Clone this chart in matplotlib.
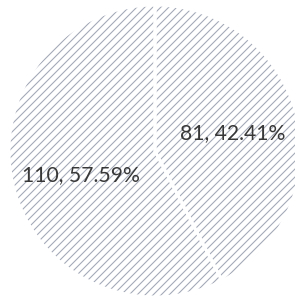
import matplotlib
matplotlib.use("Agg")
import matplotlib.pyplot as plt

values = [81, 110]
labels = ["81, 42.41%", "110, 57.59%"]

DPI = 120
plt.rcParams['hatch.color'] = '#a3a9b8'
plt.rcParams['hatch.linewidth'] = 0.65

fig = plt.figure(figsize=(295 / DPI, 297 / DPI), dpi=DPI)
ax = fig.add_axes([9 / 295, 0.0, 292 / 295, 292 / 297])
wedges, _ = ax.pie(values, startangle=90, counterclock=False,
                   colors=['white', 'white'],
                   wedgeprops=dict(edgecolor='#a3a9b8', linewidth=0, hatch='/////'))
for w in wedges:
    w.set_linewidth(0)
# white separators
ax.pie(values, startangle=90, counterclock=False, colors=['none', 'none'],
       wedgeprops=dict(edgecolor='white', linewidth=1.8))
fs = 12.7
ax.text(0.534, 0.123, labels[0], ha='center', va='center', fontsize=fs,
        family='Lato', color='#383838')
ax.text(-0.507, -0.164, labels[1], ha='center', va='center', fontsize=fs,
        family='Lato', color='#383838')
ax.set_xlim(-1.0, 1.0)
ax.set_ylim(-1.0, 1.0)
fig.savefig("out.png", dpi=DPI)
